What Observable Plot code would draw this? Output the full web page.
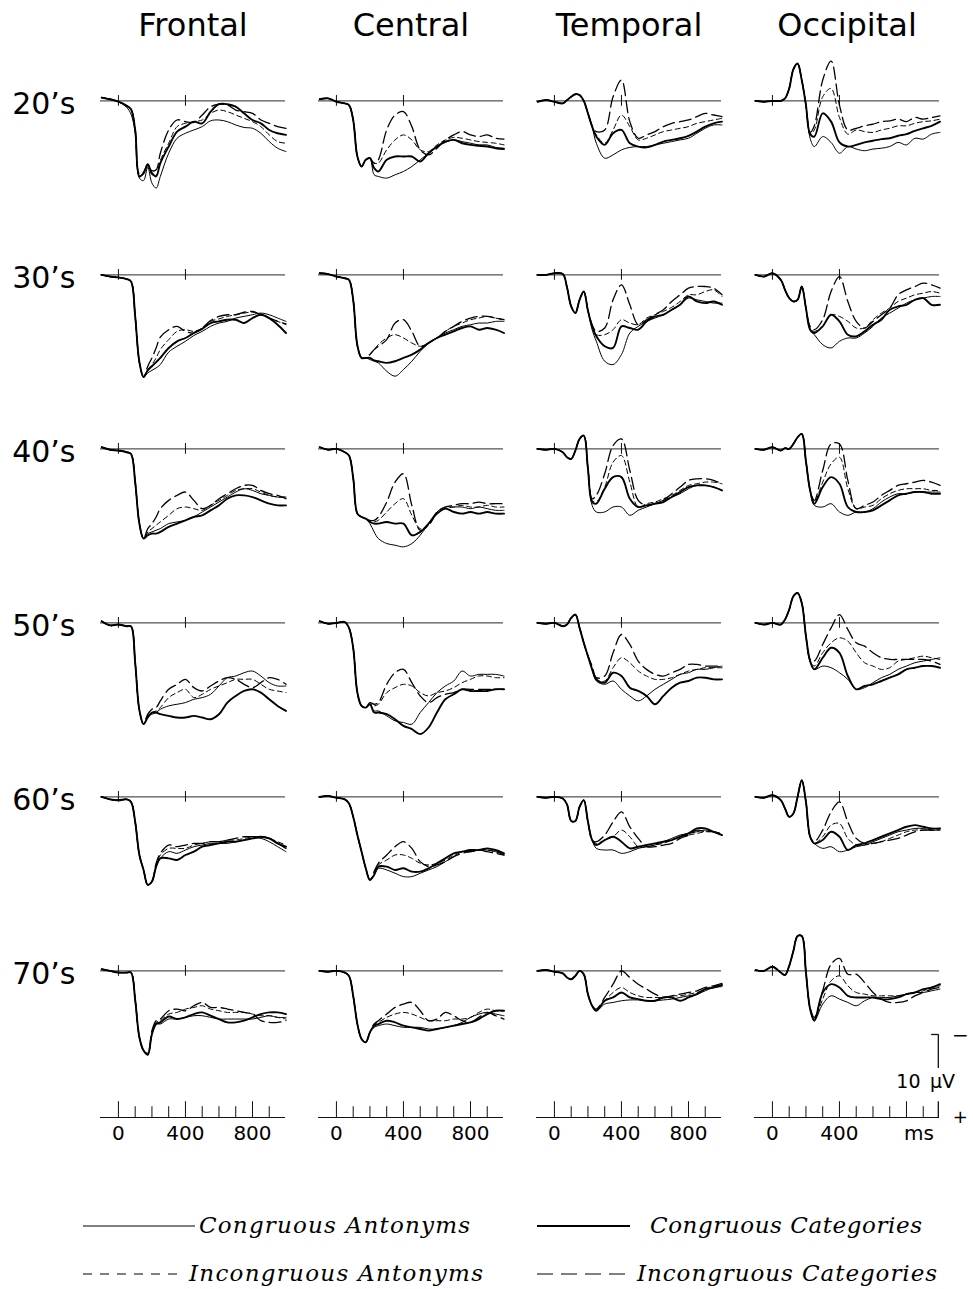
<!DOCTYPE html>
<html><head><meta charset="utf-8">
<script src="https://cdn.jsdelivr.net/npm/d3@7"></script>
<script src="https://cdn.jsdelivr.net/npm/@observablehq/plot@0.6"></script>
<style>
body{margin:0;background:#fff;}
#chart svg{display:block;}
#legend{display:block;}
</style></head><body>
<div id="chart"></div>
<svg id="legend" width="973" height="132"></svg>
<script>
// ---------- categories ----------
const regions = ["Frontal", "Central", "Temporal", "Occipital"];
const ages = ["20’s", "30’s", "40’s", "50’s", "60’s", "70’s"];
const conditions = ["Congruous Antonyms", "Congruous Categories", "Incongruous Antonyms", "Incongruous Categories"];
// sample times (ms)
const times = [-100,-50,0,50,75,100,125,150,175,200,225,250,300,350,400,450,500,550,600,650,700,750,800,850,900,950,1000];

// ---------- values (µV, positive plotted downward); order: CA, CC, IA, IC ----------
const frontal20 = [
 [-0.4,-0.2,0.1,0.8,1.6,3.8,9.3,9.6,8.0,9.9,10.5,9.1,6.3,4.5,3.9,3.5,3.1,2.4,2.3,2.5,2.9,3.2,3.3,3.9,4.9,5.7,6.1],
 [-0.4,-0.2,0.1,0.6,1.0,3.5,9.1,8.7,7.7,8.7,9.1,7.5,5.5,3.7,3.1,2.5,2.7,1.3,0.4,0.4,0.7,1.5,2.3,2.7,3.5,3.9,4.1],
 [-0.4,-0.2,0.1,0.6,1.0,3.5,9.0,8.8,7.8,8.9,9.0,7.2,5.1,3.1,2.7,2.5,2.3,1.5,1.1,1.3,1.7,2.1,2.5,3.1,4.1,4.9,5.1],
 [-0.4,-0.2,0.1,0.6,1.0,3.4,8.8,8.6,7.6,8.4,8.3,6.3,3.5,2.3,2.5,2.6,1.7,0.7,0.4,0.5,1.1,1.3,1.5,2.3,2.7,3.1,3.3]];
const central20 = [
 [-0.2,-0.3,0.1,0.3,0.5,2.3,6.7,7.9,7.1,6.9,8.9,9.1,9.3,8.9,8.5,7.9,7.1,6.3,5.5,5.0,4.7,4.9,5.1,5.3,5.3,5.6,5.7],
 [-0.2,-0.3,0.1,0.3,0.5,2.3,6.7,7.9,7.1,6.9,8.1,8.5,7.1,6.7,6.7,6.7,7.3,6.3,5.5,4.9,4.7,5.1,5.3,5.4,5.5,5.7,5.8],
 [-0.2,-0.3,0.1,0.3,0.5,2.3,6.7,7.9,7.1,6.9,7.5,7.5,5.9,4.7,4.1,4.7,5.9,6.1,5.3,4.7,4.4,4.5,4.7,4.9,5.0,5.1,5.3],
 [-0.2,-0.3,0.1,0.3,0.5,2.3,6.7,7.9,7.1,6.9,7.5,7.1,3.5,1.7,1.3,3.1,5.9,6.5,5.7,4.7,4.1,3.7,4.1,4.3,4.1,4.5,4.6]];
const temporal20 = [
 [0.1,-0.1,0.1,0.3,-0.1,-0.5,-0.8,-0.7,0.0,1.5,3.1,5.1,6.9,6.5,5.9,5.6,5.5,5.5,5.3,5.1,4.9,4.7,4.5,3.9,3.3,2.9,2.9],
 [0.1,-0.1,0.1,0.3,-0.1,-0.5,-0.8,-0.7,0.0,1.5,3.1,4.3,5.3,3.9,3.5,5.1,5.5,5.6,5.3,4.9,4.7,4.5,4.2,3.7,3.1,2.7,2.5],
 [0.1,-0.1,0.1,0.3,-0.1,-0.5,-0.8,-0.7,0.0,1.5,3.1,4.1,5.1,3.5,1.7,3.1,4.7,4.5,4.1,3.7,3.5,3.3,3.1,2.7,2.5,2.3,2.1],
 [0.1,-0.1,0.1,0.3,-0.1,-0.5,-0.8,-0.7,0.0,1.5,3.0,3.7,3.5,-0.5,-2.5,2.5,4.5,4.1,3.7,3.1,2.7,2.5,2.3,1.9,1.5,1.7,1.9]];
const occipital20 = [
 [0,0.1,0,0,-0.3,-1.5,-3.8,-4.5,-2.5,0.5,4.5,5.5,4.3,5.0,6.3,5.5,5.8,6.0,5.8,5.7,5.5,5.0,5.3,4.5,4.6,4.0,3.8],
 [0,0.1,0,0,-0.3,-1.5,-3.8,-4.5,-2.5,0.5,4.0,4.3,1.5,2.5,5.0,5.5,5.3,5.0,4.8,4.6,4.5,4.2,4.0,3.6,3.3,3.0,2.5],
 [0,0.1,0,0,-0.3,-1.5,-3.8,-4.5,-2.5,0.5,4.0,3.5,-0.5,-1.5,2.0,4.0,3.5,3.7,3.8,3.5,3.3,3.0,3.0,2.7,2.5,2.4,2.2],
 [0,0.1,0,0,-0.3,-1.5,-3.8,-4.5,-2.5,0.5,3.8,3.0,-2.5,-4.8,0.5,3.5,3.3,3.0,2.8,2.5,2.4,2.2,2.5,2.0,2.2,2.0,1.8]];

const frontal30 = [
 [0,0.2,0.3,0.5,0.8,5.0,10.5,12.3,11.8,11.5,11.2,10.8,9.3,8.6,8.0,7.3,6.8,6.2,5.8,5.6,5.2,5.0,4.8,4.6,4.8,5.2,5.6],
 [0,0.2,0.3,0.5,0.8,5.0,10.5,12.3,11.5,11.0,10.5,10.0,8.8,8.0,7.6,7.0,6.5,5.8,5.6,5.4,5.4,5.8,5.2,4.8,5.2,6.0,7.0],
 [0,0.2,0.3,0.5,0.8,5.0,10.5,12.3,11.4,10.8,10.0,9.0,7.8,6.8,6.6,6.8,6.4,5.6,5.3,5.0,4.8,4.6,4.5,4.7,5.2,5.6,6.0],
 [0,0.2,0.3,0.5,0.8,5.0,10.5,12.3,11.0,10.0,8.8,7.5,6.6,6.2,6.8,7.0,6.4,5.5,5.0,4.8,4.8,4.5,4.4,4.8,5.2,5.6,5.9]];
const central30 = [
 [-0.2,-0.1,0.2,0.4,0.6,3.0,8.5,10.0,10.0,10.2,10.4,10.6,11.6,12.2,11.4,10.4,9.2,8.2,7.6,7.0,6.6,6.2,6.0,5.8,5.8,5.6,5.6],
 [-0.2,-0.1,0.2,0.4,0.6,3.0,8.5,10.0,10.0,10.0,10.3,10.4,10.6,10.4,10.0,9.6,9.0,8.2,7.6,7.2,6.8,6.4,6.2,6.6,6.4,6.6,7.0],
 [-0.2,-0.1,0.2,0.4,0.6,3.0,8.5,10.0,10.0,9.5,9.0,8.4,7.6,7.2,7.6,8.2,8.6,8.2,7.6,6.8,6.2,5.8,5.4,5.2,5.0,5.2,5.4],
 [-0.2,-0.1,0.2,0.4,0.6,3.0,8.5,10.0,10.0,9.6,9.0,8.6,7.8,5.8,5.4,6.8,8.6,8.2,7.6,6.8,6.2,5.6,5.2,5.0,5.0,5.2,5.4]];
const temporal30 = [
 [0,0,-0.2,-0.1,1.5,3.8,4.6,3.0,2.0,4.3,6.6,8.0,10.4,10.8,9.6,7.0,6.2,5.6,5.2,4.8,4.2,3.6,2.8,3.0,3.2,3.4,3.4],
 [0,0,-0.2,-0.1,1.5,3.8,4.6,3.0,2.0,4.3,6.2,7.4,8.6,8.8,6.2,6.4,6.6,5.6,5.0,4.8,4.2,3.6,2.6,3.2,3.4,3.2,3.6],
 [0,0,-0.2,-0.1,1.5,3.8,4.6,3.0,2.0,4.3,6.2,7.2,7.2,6.6,5.4,5.8,6.0,5.2,4.8,4.4,3.9,3.2,2.4,2.4,2.0,1.8,2.6],
 [0,0,-0.2,-0.1,1.5,3.8,4.6,3.0,2.0,4.3,6.0,6.8,6.4,3.0,1.2,3.6,6.0,5.4,4.8,4.2,3.2,2.4,1.6,1.4,1.4,1.6,2.4]];
const occipital30 = [
 [0,0.2,-0.2,0.6,1.8,2.8,3.2,3.0,1.4,4.0,6.6,7.2,8.4,8.8,8.0,7.6,7.6,7.0,6.2,5.2,4.6,4.0,3.4,3.0,2.8,2.6,2.6],
 [0,0.2,-0.2,0.6,1.8,2.8,3.2,3.0,1.4,4.0,6.6,7.0,6.2,4.8,5.6,7.2,7.4,6.8,6.0,5.4,4.2,3.8,3.6,3.0,2.8,3.6,3.6],
 [0,0.2,-0.2,0.6,1.8,2.8,3.2,3.0,1.4,4.0,6.4,6.8,6.2,4.8,5.0,5.6,6.4,6.4,5.4,4.6,4.0,3.2,2.8,2.4,2.2,2.0,2.2],
 [0,0.2,-0.2,0.6,1.8,2.8,3.2,3.0,1.4,4.0,6.2,6.6,5.4,2.0,0.2,3.2,5.6,6.4,5.6,4.8,4.0,2.4,1.8,1.4,1.0,1.2,1.6]];

const frontal40 = [
 [-0.2,0.1,0.2,0.4,0.6,4.0,9.0,10.8,10.2,10.0,9.8,9.6,9.0,8.8,8.6,8.2,7.6,7.0,6.4,5.8,5.2,4.8,5.0,5.4,5.6,5.8,5.8],
 [-0.2,0.1,0.2,0.4,0.6,4.0,9.0,10.8,10.4,10.2,10.2,10.0,9.4,9.0,8.6,8.2,8.0,7.4,6.8,6.0,5.6,5.6,5.8,6.2,6.6,6.8,6.8],
 [-0.2,0.1,0.2,0.4,0.6,4.0,9.0,10.8,10.0,9.6,9.2,8.8,8.0,7.2,7.0,7.2,7.4,6.8,6.2,5.6,5.0,4.8,4.8,5.2,5.6,5.8,5.8],
 [-0.2,0.1,0.2,0.4,0.6,4.0,9.0,10.8,9.6,9.0,8.2,7.2,6.2,5.6,5.2,6.2,7.2,6.8,6.0,5.4,4.8,4.4,4.4,5.0,5.4,5.6,6.0]];
const central40 = [
 [-0.2,0.1,0,0.4,0.8,3.5,7.8,8.2,8.4,9.0,10.0,10.8,11.4,11.6,11.8,11.4,10.4,9.0,7.6,7.0,7.0,7.0,7.2,7.0,7.2,7.4,7.4],
 [-0.2,0.1,0,0.4,0.8,3.5,7.8,8.2,8.4,8.8,9.0,9.0,8.8,9.0,9.0,10.4,10.0,9.0,7.8,7.2,7.6,7.8,7.6,7.8,7.6,7.8,7.8],
 [-0.2,0.1,0,0.4,0.8,3.5,7.8,8.2,8.4,8.8,8.8,8.6,7.6,6.6,6.0,8.0,9.6,9.2,7.8,7.2,7.0,6.8,7.0,7.0,6.8,7.0,7.0],
 [-0.2,0.1,0,0.4,0.8,3.5,7.8,8.2,8.4,8.6,8.6,8.2,6.4,4.0,3.0,6.8,9.8,9.2,7.6,7.0,6.8,6.6,6.6,6.4,6.6,6.6,6.6]];
const temporal40 = [
 [0,0.1,0,0.4,1.0,1.2,0.2,-1.2,-1.6,2.4,6.8,7.6,7.6,7.0,7.0,8.0,7.4,7.0,6.6,6.2,5.8,5.4,4.8,4.4,4.4,4.6,5.0],
 [0,0.1,0,0.4,1.0,1.2,0.2,-1.2,-1.6,2.4,6.4,6.6,4.8,3.4,3.4,6.0,7.0,6.8,6.6,6.4,5.8,5.2,4.6,4.4,4.4,4.6,5.0],
 [0,0.1,0,0.4,1.0,1.2,0.2,-1.2,-1.6,2.4,6.2,6.4,4.6,1.6,0.8,4.0,7.0,6.6,6.4,6.0,5.6,5.0,4.4,4.2,4.0,4.0,4.2],
 [0,0.1,0,0.4,1.0,1.2,0.2,-1.2,-1.6,2.4,6.0,5.6,3.0,-0.4,-1.2,2.6,6.2,6.8,6.6,6.2,5.4,4.6,3.8,3.6,3.6,3.8,4.2]];
const occipital40 = [
 [0,0.1,-0.2,0.2,-0.1,0,-0.6,-1.4,-1.8,1.5,5.0,6.8,7.0,6.6,7.6,8.0,7.6,7.6,7.2,6.4,5.8,5.4,5.4,5.2,5.2,5.2,5.2],
 [0,0.1,-0.2,0.2,-0.1,0,-0.6,-1.4,-1.8,1.5,5.0,6.6,4.6,3.4,4.2,7.0,7.6,7.6,7.4,6.8,6.2,5.6,5.4,5.2,5.2,5.4,5.4],
 [0,0.1,-0.2,0.2,-0.1,0,-0.6,-1.4,-1.8,1.5,5.0,6.4,4.0,1.8,1.0,4.8,7.2,7.0,6.8,6.0,5.4,5.0,4.8,4.8,4.8,5.0,5.0],
 [0,0.1,-0.2,0.2,-0.1,0,-0.6,-1.4,-1.8,1.5,5.0,6.2,2.6,-0.6,-0.6,3.8,7.2,6.8,6.4,5.6,5.0,4.4,4.2,4.0,3.8,4.0,4.4]];

const frontal50 = [
 [-0.2,0.3,0.2,0.4,0.4,4.8,10.5,12.2,11.2,11.0,10.8,10.4,10.0,9.8,9.6,9.2,9.0,8.6,7.6,6.6,6.4,6.0,5.8,6.4,7.2,7.6,7.6],
 [-0.2,0.3,0.2,0.4,0.4,4.8,10.5,12.2,11.4,10.8,10.8,11.0,11.2,11.4,11.4,11.2,11.4,11.6,11.0,9.6,8.8,8.2,8.0,8.4,9.2,10.0,10.6],
 [-0.2,0.3,0.2,0.4,0.4,4.8,10.5,12.2,11.2,10.8,10.6,10.2,9.0,8.4,8.0,9.0,8.6,8.0,7.6,7.2,6.8,6.8,6.8,7.4,8.0,8.2,8.4],
 [-0.2,0.3,0.2,0.4,0.4,4.8,10.5,12.2,11.0,10.4,10.2,9.4,8.0,7.4,6.8,7.8,8.2,7.6,7.0,6.6,6.8,7.4,7.8,7.2,6.6,6.8,7.4]];
const central50 = [
 [-0.2,0.1,0,-0.1,0.6,3.0,8.4,10.0,10.2,9.8,10.6,10.6,11.2,11.8,12.0,12.2,10.8,9.6,8.4,7.6,7.0,5.8,6.4,6.2,6.2,6.2,6.4],
 [-0.2,0.1,0,-0.1,0.6,3.0,8.4,10.0,10.2,9.8,10.8,10.8,11.0,11.6,12.4,12.8,13.4,12.6,10.8,9.2,8.6,8.0,8.2,8.2,8.2,8.0,8.0],
 [-0.2,0.1,0,-0.1,0.6,3.0,8.4,10.0,10.2,9.8,10.0,9.8,8.4,7.8,7.4,7.6,8.4,8.8,8.4,8.2,7.8,7.2,6.8,6.4,6.4,6.6,6.6],
 [-0.2,0.1,0,-0.1,0.6,3.0,8.4,10.0,10.2,9.6,9.8,9.6,7.4,6.0,5.6,7.2,8.8,9.6,9.0,8.6,8.4,8.0,8.0,8.0,8.0,8.0,8.0]];
const temporal50 = [
 [0,0.1,0,0.4,0.2,-0.6,-1.0,0.6,2.4,4.0,5.6,7.0,7.4,7.0,8.0,8.8,9.4,8.8,8.0,7.4,6.8,6.2,6.0,5.6,5.6,5.4,5.2],
 [0,0.1,0,0.4,0.2,-0.6,-1.0,0.6,2.4,4.0,5.6,6.8,7.2,6.0,6.4,7.8,8.2,8.8,9.8,8.8,7.8,7.2,7.0,6.6,6.6,6.8,6.8],
 [0,0.1,0,0.4,0.2,-0.6,-1.0,0.6,2.4,4.0,5.4,6.8,7.0,5.4,4.2,4.8,5.8,6.4,6.8,6.8,6.6,6.2,5.8,5.6,5.4,5.4,5.4],
 [0,0.1,0,0.4,0.2,-0.6,-1.0,0.6,2.4,4.0,5.2,6.6,6.4,3.6,1.4,2.6,4.6,5.6,6.2,6.4,6.0,5.6,5.0,5.0,5.2,5.2,5.2]];
const occipital50 = [
 [0,0.2,0,0.2,-0.4,-1.6,-3.2,-3.6,-2.4,1.6,4.6,5.6,5.2,5.4,6.0,6.8,8.0,7.8,7.2,6.6,6.2,5.6,5.2,4.8,4.6,4.4,4.2],
 [0,0.2,0,0.2,-0.4,-1.6,-3.2,-3.6,-2.4,1.6,4.6,5.6,4.2,3.0,3.6,6.4,8.0,7.6,7.4,7.0,6.6,6.2,5.6,5.4,5.2,5.2,5.4],
 [0,0.2,0,0.2,-0.4,-1.6,-3.2,-3.6,-2.4,1.6,4.6,5.2,3.6,2.4,1.8,2.2,3.6,4.8,5.2,5.6,5.4,4.6,4.4,4.2,4.0,4.2,4.4],
 [0,0.2,0,0.2,-0.4,-1.6,-3.2,-3.6,-2.4,1.6,4.4,4.6,2.6,0.6,-1.0,0.8,2.4,2.8,3.6,4.2,4.4,4.4,4.4,4.4,4.4,4.6,5.0]];

const frontal60 = [
 [0,0.3,0.4,0.3,0.6,3.0,7.0,8.8,10.6,10.2,8.4,7.4,6.6,6.8,6.4,6.0,5.8,5.6,5.6,5.6,5.4,5.2,5.0,5.0,5.4,6.0,6.6],
 [0,0.3,0.4,0.3,0.6,3.0,7.0,8.8,10.6,10.2,8.4,7.4,7.4,7.6,7.0,6.6,6.0,5.8,5.6,5.4,5.4,5.2,5.0,4.8,5.0,5.6,6.0],
 [0,0.3,0.4,0.3,0.6,3.0,7.0,8.8,10.6,10.2,8.2,7.0,6.2,6.2,6.2,5.8,5.6,5.4,5.4,5.2,5.2,5.0,4.8,4.8,5.0,5.4,5.8],
 [0,0.3,0.4,0.3,0.6,3.0,7.0,8.8,10.6,10.2,8.0,6.8,5.8,6.0,5.8,5.6,5.6,5.4,5.4,5.2,5.0,4.8,4.8,4.8,5.0,5.6,6.2]];
const central60 = [
 [0,-0.1,0.1,0.3,0.8,2.4,4.6,6.6,8.6,10.0,9.4,8.6,8.8,9.2,9.6,9.6,9.2,8.8,8.4,7.8,7.2,6.6,6.6,6.4,6.4,6.6,7.0],
 [0,-0.1,0.1,0.3,0.8,2.4,4.6,6.6,8.6,10.0,9.4,8.4,8.4,8.8,8.6,9.0,9.0,8.6,8.0,7.4,6.8,6.6,6.4,6.4,6.2,6.4,6.8],
 [0,-0.1,0.1,0.3,0.8,2.4,4.6,6.6,8.6,10.0,9.2,8.2,7.6,7.0,7.0,7.4,8.0,8.2,8.0,7.6,7.0,6.6,6.6,6.4,6.4,6.6,6.8],
 [0,-0.1,0.1,0.3,0.8,2.4,4.6,6.6,8.6,10.0,9.0,8.0,7.0,6.0,5.4,6.2,7.8,8.4,8.2,7.8,7.2,6.8,6.6,6.4,6.6,6.8,7.0]];
const temporal60 = [
 [0,0.1,0,0.2,0.9,2.9,2.9,1.2,0.4,3.0,5.2,6.2,6.4,6.4,6.8,6.6,6.2,6.0,5.8,5.4,5.0,4.6,4.4,4.2,4.0,4.2,4.6],
 [0,0.1,0,0.2,0.9,2.9,2.9,1.2,0.4,3.0,5.2,5.8,5.2,4.8,5.4,6.2,6.0,5.8,5.6,5.4,5.2,4.8,4.4,3.8,3.8,4.2,4.6],
 [0,0.1,0,0.2,0.9,2.9,2.9,1.2,0.4,3.0,5.2,5.6,5.2,4.8,4.0,4.8,6.0,6.0,5.8,5.6,5.2,4.8,4.6,4.4,4.2,4.2,4.4],
 [0,0.1,0,0.2,0.9,2.9,2.9,1.2,0.4,3.0,5.2,5.4,4.6,3.0,1.8,3.6,5.0,6.0,6.0,5.8,5.6,5.0,4.6,4.0,4.2,4.2,4.6]];
const occipital60 = [
 [0,0.1,-0.2,0.4,1.4,2.4,2.0,0,-2.0,0.6,4.8,5.6,6.2,6.0,6.6,6.4,6.0,5.8,5.4,5.0,4.6,4.2,4.0,3.8,3.8,4.0,4.0],
 [0,0.1,-0.2,0.4,1.4,2.4,2.0,0,-2.0,0.6,4.8,5.6,5.2,4.2,4.8,6.4,5.8,5.6,5.2,4.8,4.4,4.0,3.6,3.4,3.6,3.8,3.8],
 [0,0.1,-0.2,0.4,1.4,2.4,2.0,0,-2.0,0.6,4.8,5.6,4.8,3.4,3.2,5.0,5.8,5.8,5.6,5.4,5.0,4.6,4.2,4.0,4.0,4.0,4.0],
 [0,0.1,-0.2,0.4,1.4,2.4,2.0,0,-2.0,0.6,4.8,5.4,4.0,1.8,0.6,3.0,5.0,5.6,5.6,5.4,5.2,5.0,4.6,4.2,4.0,4.0,3.8]];

const frontal70 = [
 [-0.2,0,0.2,0.2,0.2,3.5,8.0,9.6,10.1,7.6,6.4,6.4,5.8,5.8,5.6,5.4,5.4,5.6,5.8,5.8,5.8,5.8,5.8,5.6,5.4,5.6,5.6],
 [-0.2,0,0.2,0.2,0.2,3.5,8.0,9.6,10.1,7.6,6.4,6.2,5.5,5.8,5.6,5.2,5.0,5.4,5.8,6.2,6.2,6.0,5.6,5.2,5.0,5.0,5.2],
 [-0.2,0,0.2,0.2,0.2,3.5,8.0,9.6,10.0,7.4,6.2,6.0,5.2,5.0,4.6,4.4,4.2,4.6,4.8,5.0,5.0,5.0,5.2,5.4,5.4,5.6,5.8],
 [-0.2,0,0.2,0.2,0.2,3.5,8.0,9.6,9.9,7.2,6.0,5.8,4.8,4.6,4.8,4.2,3.8,4.4,4.4,4.6,4.8,5.0,5.2,6.0,6.2,6.2,6.0]];
const central70 = [
 [0,0.1,0,0.2,0.6,3.0,6.4,8.2,8.6,7.4,6.8,6.6,6.4,6.6,6.8,6.8,6.8,7.0,7.0,6.8,6.6,6.2,5.6,5.2,5.0,5.2,5.4],
 [0,0.1,0,0.2,0.6,3.0,6.4,8.2,8.6,7.4,6.6,6.4,6.0,6.2,6.6,6.8,7.0,7.2,7.0,6.8,6.6,6.4,6.2,5.8,5.2,4.8,4.8],
 [0,0.1,0,0.2,0.6,3.0,6.4,8.2,8.6,7.4,6.4,6.2,5.6,5.2,5.0,5.2,5.6,6.0,6.0,6.0,5.8,5.8,5.6,5.0,4.6,4.8,4.8],
 [0,0.1,0,0.2,0.6,3.0,6.4,8.2,8.6,7.4,6.4,6.0,5.2,4.4,4.0,3.8,4.8,6.0,5.8,5.0,5.4,6.0,6.2,5.6,5.0,5.4,5.8]];
const temporal70 = [
 [0,-0.1,0.1,0.3,0.8,1.0,0.6,0,0.4,2.8,4.2,4.8,4.0,3.8,3.6,3.5,3.5,3.6,3.6,3.5,3.4,3.2,3.0,2.8,2.4,2.0,1.9],
 [0,-0.1,0.1,0.3,0.8,1.0,0.6,0,0.4,2.8,4.2,4.8,3.6,3.2,2.6,3.2,3.4,3.6,3.6,3.2,3.2,3.6,3.2,2.8,2.2,2.0,1.7],
 [0,-0.1,0.1,0.3,0.8,1.0,0.6,0,0.4,2.8,4.2,4.6,3.6,2.6,2.0,2.6,3.0,3.2,3.2,3.2,3.0,3.0,2.8,2.6,2.2,1.8,1.7],
 [0,-0.1,0.1,0.3,0.8,1.0,0.6,0,0.4,2.8,4.2,4.6,3.2,1.6,0,0.8,1.6,2.2,2.8,3.2,3.0,2.8,2.6,2.4,2.0,1.8,1.5]];
const occipital70 = [
 [-0.1,0,-0.5,0.2,0.5,-0.6,-2.4,-4.2,-4.2,0.2,4.6,6.0,4.0,3.0,3.4,3.8,4.2,3.6,3.2,3.2,3.2,3.0,2.8,2.6,2.6,2.4,2.2],
 [-0.1,0,-0.5,0.2,0.5,-0.6,-2.4,-4.2,-4.2,0.2,4.6,6.0,2.6,1.6,2.0,3.0,3.2,3.2,3.2,3.4,3.4,3.2,2.8,2.6,2.2,2.0,1.6],
 [-0.1,0,-0.5,0.2,0.5,-0.6,-2.4,-4.2,-4.2,0.2,4.6,5.8,3.4,1.2,0.6,1.8,2.6,2.8,3.0,3.0,3.0,3.0,2.8,2.6,2.4,2.0,1.8],
 [-0.1,0,-0.5,0.2,0.5,-0.6,-2.4,-4.2,-4.2,0.2,4.4,5.6,2.4,-0.8,-1.5,0.4,0.4,1.4,2.6,3.4,3.8,3.8,3.6,3.0,2.6,2.2,2.0]];

// ---------- axis / scale-bar labels ----------
const baselineTickTimes = [0, 400];
const axisTickTimes = [0,100,200,300,400,500,600,700,800,900];
const majorTickTimes = [0, 400, 800];
const axisLabelTimes = [0, 400, 800];
const axisLabelText = ["0", "400", "800"];
const occipitalLabelTimes = [0, 400, 875];
const occipitalLabelText = ["0", "400", "ms"];
const scaleBarValue = 10; // µV

// ---------- table ----------
const panels = [
 ["Frontal","20’s",frontal20],["Central","20’s",central20],["Temporal","20’s",temporal20],["Occipital","20’s",occipital20],
 ["Frontal","30’s",frontal30],["Central","30’s",central30],["Temporal","30’s",temporal30],["Occipital","30’s",occipital30],
 ["Frontal","40’s",frontal40],["Central","40’s",central40],["Temporal","40’s",temporal40],["Occipital","40’s",occipital40],
 ["Frontal","50’s",frontal50],["Central","50’s",central50],["Temporal","50’s",temporal50],["Occipital","50’s",occipital50],
 ["Frontal","60’s",frontal60],["Central","60’s",central60],["Temporal","60’s",temporal60],["Occipital","60’s",occipital60],
 ["Frontal","70’s",frontal70],["Central","70’s",central70],["Temporal","70’s",temporal70],["Occipital","70’s",occipital70]];
const rows = [];
for (const [region, age, series] of panels)
  series.forEach((vals, i) => vals.forEach((v, j) => rows.push({region, age, cond: conditions[i], t: times[j], v})));

const lastAge = ages[ages.length - 1];
const axisLabels = [];
for (const r of regions) {
  const ts = r === "Occipital" ? occipitalLabelTimes : axisLabelTimes;
  const ls = r === "Occipital" ? occipitalLabelText : axisLabelText;
  ts.forEach((t, i) => axisLabels.push({region: r, age: lastAge, t, label: ls[i]}));
}

const Y_TOP = -3.3, Y_BOT = 17.66; // visible µV range of one panel
const styles = {
  "Congruous Antonyms": {strokeWidth: 1.0},
  "Congruous Categories": {strokeWidth: 1.9},
  "Incongruous Antonyms": {strokeWidth: 1.0, strokeDasharray: "5,3.5"},
  "Incongruous Categories": {strokeWidth: 1.3, strokeDasharray: "12,5"}
};
const sans = "DejaVu Sans";

const chart = Plot.plot({
  width: 973, height: 1157,
  marginTop: 73, marginBottom: 40, marginLeft: 100, marginRight: 34,
  style: {fontFamily: sans, background: "white", color: "black"},
  fx: {domain: regions, paddingInner: 0.1514, paddingOuter: 0, round: false, axis: null},
  fy: {domain: ages, paddingInner: 0, paddingOuter: 0, round: false, axis: null},
  x: {domain: [-107, 997], axis: null},
  y: {domain: [Y_BOT, Y_TOP], axis: null},
  marks: [
    Plot.ruleY([0], {stroke: "#111", strokeWidth: 0.9}),
    Plot.ruleX(baselineTickTimes, {x: d => d, y1: -0.65, y2: 0.65, stroke: "#111", strokeWidth: 1}),
    ...conditions.map(c => Plot.line(rows.filter(r => r.cond === c), {
      x: "t", y: "v", fx: "region", fy: "age", curve: "catmull-rom",
      stroke: "black", strokeLinejoin: "round", ...styles[c]
    })),
    // column titles
    Plot.text(regions, {fx: d => d, fy: () => ages[0], text: d => d, frameAnchor: "top", dy: -48,
      lineAnchor: "middle", fontSize: 32}),
    // row labels
    Plot.text(ages, {fx: () => regions[0], fy: d => d, text: d => d, frameAnchor: "left", y: 0,
      dx: -25, dy: 3, textAnchor: "end", lineAnchor: "middle", fontSize: 30}),
    // time axes
    Plot.ruleY([Y_BOT], {fy: () => lastAge, stroke: "#111", strokeWidth: 1}),
    Plot.ruleX(axisTickTimes, {x: d => d, fy: () => lastAge, y1: Y_BOT,
      y2: d => Y_BOT - (majorTickTimes.includes(d) ? 1.9 : 1.3), stroke: "#111", strokeWidth: 1}),
    Plot.text(axisLabels, {x: "t", y: Y_BOT, fx: "region", fy: "age", text: "label", dy: 16,
      lineAnchor: "middle", fontSize: 20}),
    // scale bar
    Plot.ruleX([990], {x: d => d, fx: () => "Occipital", fy: () => lastAge,
      y1: Y_BOT - scaleBarValue, y2: Y_BOT - 5.9, stroke: "#111", strokeWidth: 1.3}),
    Plot.ruleX([990], {x: d => d, fx: () => "Occipital", fy: () => lastAge,
      y1: Y_BOT - 1.9, y2: Y_BOT, stroke: "#111", strokeWidth: 1.3}),
    Plot.ruleY([Y_BOT - scaleBarValue], {y: d => d, fx: () => "Occipital", fy: () => lastAge,
      x1: 950, x2: 990, stroke: "#111", strokeWidth: 1.3}),
    Plot.text([`${scaleBarValue}\u2002µV`], {text: d => d, fx: () => "Occipital", fy: () => lastAge,
      x: 990, y: Y_BOT - 4.3, dx: -42, textAnchor: "start", lineAnchor: "middle", fontSize: 19}),
    Plot.text(["−"], {text: d => d, fx: () => "Occipital", fy: () => lastAge,
      x: 990, y: Y_BOT - scaleBarValue, dx: 22, dy: 1, lineAnchor: "middle", fontSize: 20}),
    Plot.text(["+"], {text: d => d, fx: () => "Occipital", fy: () => lastAge,
      x: 990, y: Y_BOT, dx: 22, lineAnchor: "middle", fontSize: 18, fill: "black"})
  ]
});
document.getElementById("chart").appendChild(chart);

// ---------- legend ----------
const legendItems = [
  {cond: conditions[0], x1: 83, x2: 195, tx: 199, tw: 271, row: 0},
  {cond: conditions[1], x1: 537, x2: 630, tx: 650, tw: 272, row: 0},
  {cond: conditions[2], x1: 83, x2: 180, tx: 189, tw: 294, row: 1},
  {cond: conditions[3], x1: 537, x2: 625, tx: 637, tw: 300, row: 1}
];
const legendDash = {"Incongruous Antonyms": "9,8", "Incongruous Categories": "16,8"};
const lg = d3.select("#legend");
for (const it of legendItems) {
  const y = it.row === 0 ? 69 : 117;
  const st = styles[it.cond];
  lg.append("line").attr("x1", it.x1).attr("x2", it.x2).attr("y1", y).attr("y2", y)
    .attr("stroke", "black").attr("stroke-width", st.strokeWidth === 1.9 ? 2 : 1)
    .attr("stroke-dasharray", legendDash[it.cond] || null);
  lg.append("text").attr("x", it.tx).attr("y", y + 7)
    .attr("font-family", "DejaVu Serif").attr("font-style", "italic").attr("font-size", 23)
    .attr("textLength", it.tw).attr("lengthAdjust", "spacing").text(it.cond);
}
</script>
</body></html>
